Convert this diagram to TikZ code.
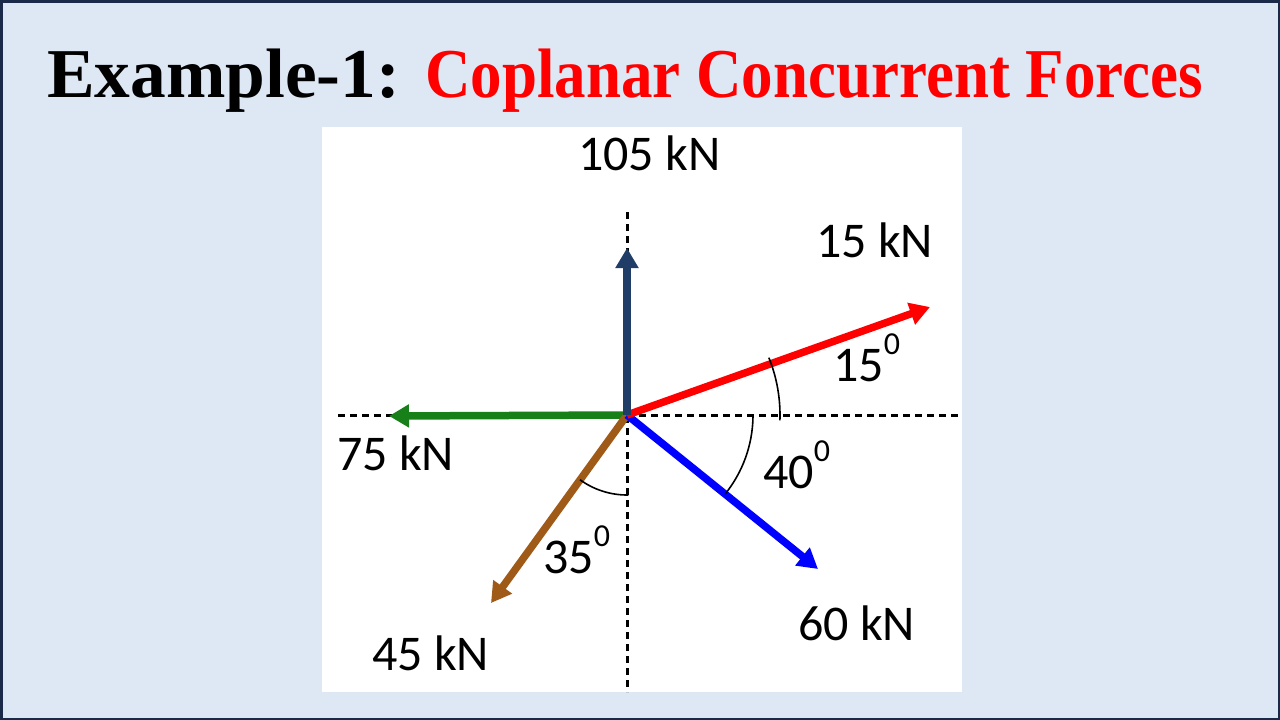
\documentclass[tikz,border=0pt]{standalone}
\usepackage{fontspec}
\setmainfont{Liberation Serif}
\newfontfamily\lab{Carlito}
\usetikzlibrary{arrows.meta}
\definecolor{bgblue}{HTML}{DEE8F4}
\definecolor{frameblue}{HTML}{1B2A48}
\definecolor{navyf}{HTML}{1F3D66}
\definecolor{redf}{HTML}{FF0000}
\definecolor{greenf}{HTML}{188018}
\definecolor{brownf}{HTML}{9E5A16}
\definecolor{bluef}{HTML}{0000FF}
\tikzset{
  force/.style={line width=7.5pt,-{Triangle[length=20pt,width=22pt]}},
  axis/.style={line width=3pt,dash pattern=on 7pt off 5pt,black},
  anglearc/.style={line width=1.6pt,black},
  lbl/.style={font=\lab\fontsize{50}{50}\selectfont,inner sep=0pt,anchor=base west},
  titleblack/.style={font=\fontsize{70}{70}\selectfont\bfseries,inner sep=0pt,anchor=base west,xscale=1.02,transform shape},
  titlered/.style={font=\fontsize{70}{70}\selectfont\bfseries,text=redf,inner sep=0pt,anchor=base west,xscale=0.9,transform shape}
}
\newcommand{\degsup}{\raisebox{27pt}{\fontsize{32}{32}\selectfont 0}}
\begin{document}
\begin{tikzpicture}[x=1pt,y=-1pt]
\useasboundingbox (0,0) rectangle (1280,720);
\fill[bgblue] (0,0) rectangle (1280,720);
\draw[frameblue,line width=2.5pt] (1.25,1.25) rectangle (1278.75,718.75);
\fill[white] (322,127) rectangle (962,692);
% title
\node[titleblack] (title1) at (47,97) {Example-1:};
\node[titlered] (title2) at (425,97) {Coplanar Concurrent Forces};
% axes
\coordinate (O) at (627,415);
\coordinate (vtop) at (627,212);
\coordinate (vbot) at (627,692);
\coordinate (hright) at (958,415);
\coordinate (hleft) at (338,415);
\coordinate (hleftend) at (400,415);
\draw[axis] (vtop) -- (vbot);
\draw[axis] (O) -- (hright);
\draw[axis] (hleft) -- (hleftend);
% force tips
\coordinate (tN) at (627,248);
\coordinate (tR) at (930,307);
\coordinate (tG) at (389,416);
\coordinate (tB) at (491,603);
\coordinate (tL) at (818,569);
\draw[force,greenf] (O) -- (tG);
\draw[force,brownf] (O) -- (tB);
\draw[force,bluef] (O) -- (tL);
\draw[force,redf] (O) -- (tR);
\draw[force,navyf] (O) -- (tN);
% angle arcs
\draw[anglearc] (O) ++(-2:153pt) arc[start angle=-2,end angle=22,radius=153pt];
\draw[anglearc] (O) ++(-1:126pt) arc[start angle=-1,end angle=-39,radius=126pt];
\draw[anglearc] (O) ++(234:80pt) arc[start angle=234,end angle=271,radius=80pt];
% labels
\node[lbl] (l105) at (578,170) {105 kN};
\node[lbl] (l15) at (816,257) {15 kN};
\node[lbl] (l75) at (337,470) {75 kN};
\node[lbl] (l45) at (372,670) {45 kN};
\node[lbl] (l60) at (798,640) {60 kN};
\node[lbl] (a15) at (833,381) {15\degsup};
\node[lbl] (a40) at (763,488) {40\degsup};
\node[lbl] (a35) at (543,573) {35\degsup};
\end{tikzpicture}
\end{document}
